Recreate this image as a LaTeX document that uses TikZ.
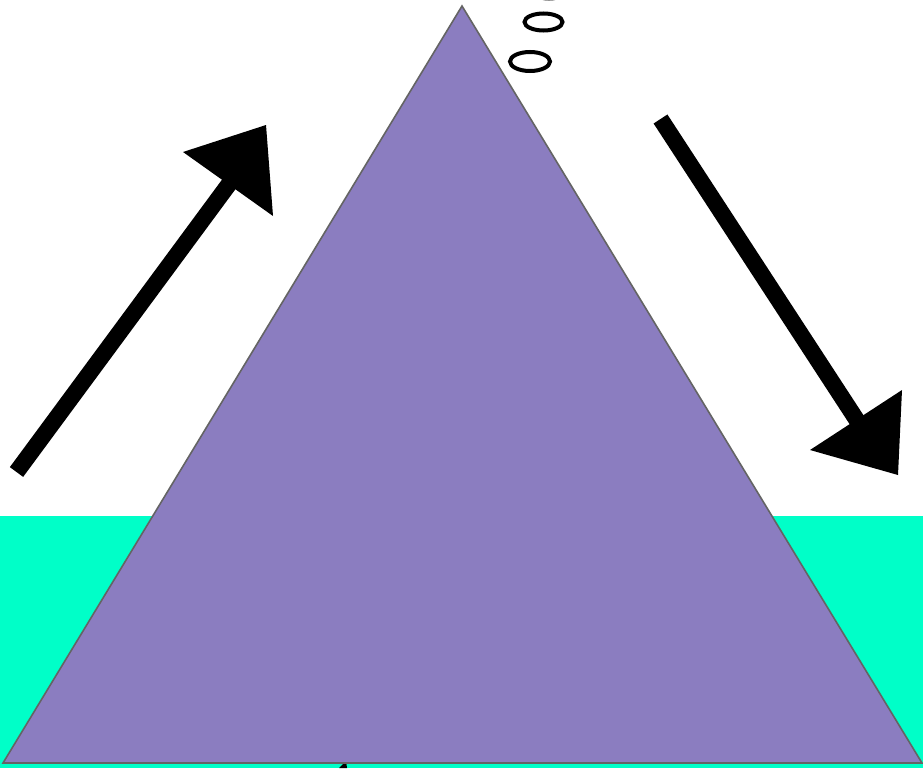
\documentclass[tikz,border=0pt]{standalone}
\definecolor{seateal}{RGB}{0,255,200}
\definecolor{mountpurple}{RGB}{139,125,192}
\definecolor{edgegray}{RGB}{100,100,100}
\tikzset{
  bubble/.style={draw=black, line width=4pt, fill=none},
  arrowhead/.style={fill=black, draw=none},
  arrowshaft/.style={draw=black, line width=16.5pt, line cap=butt}
}
\begin{document}
\begin{tikzpicture}[x=1pt,y=-1pt]
\useasboundingbox (0,0) rectangle (923,768);
% sea
\fill[seateal] (0,516) rectangle (923,768);
% small cut-off arrow tip at bottom
\fill[black] (339,768) -- (346,761) -- (347,768) -- cycle;
% mountain
\draw[fill=mountpurple, draw=edgegray, line width=1.6pt, line join=miter]
  (462,6) -- (922,763) -- (3,763) -- cycle;
% bubbles
\draw[bubble] (549,-10.5) ellipse [x radius=19, y radius=9];
\draw[bubble] (543.5,22) ellipse [x radius=19, y radius=8.5];
\draw[bubble] (530,61.5) ellipse [x radius=20, y radius=9.5];
% left arrow (up)
\coordinate (ls) at (16.5,472);
\coordinate (le) at (232,180);
\draw[arrowshaft] (ls) -- (le);
\fill[arrowhead] (183,152) -- (266,125) -- (273,216) -- cycle;
% right arrow (down)
\coordinate (rs) at (660.5,119);
\coordinate (re) at (860,425);
\draw[arrowshaft] (rs) -- (re);
\fill[arrowhead] (810,450) -- (902,390) -- (898,475) -- cycle;
\end{tikzpicture}
\end{document}
